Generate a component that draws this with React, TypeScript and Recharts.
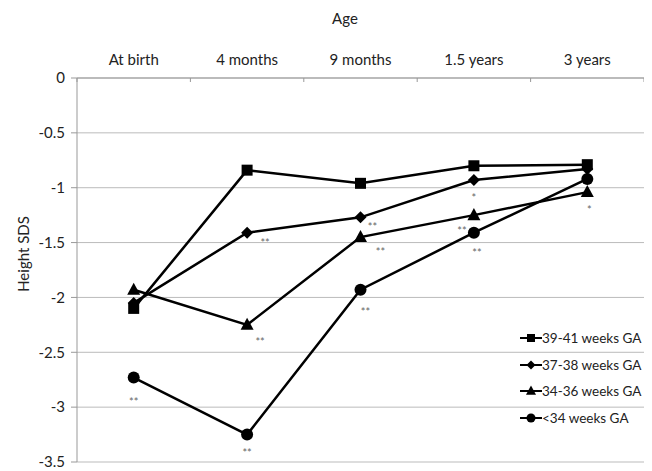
import React from 'react';
import { LineChart, Line, XAxis, YAxis, CartesianGrid, LabelList } from 'recharts';

const ages = ['At birth', '4 months', '9 months', '1.5 years', '3 years'];
const ga3941 = [-2.1, -0.84, -0.96, -0.8, -0.79];
const ga3738 = [-2.05, -1.41, -1.27, -0.93, -0.83];
const ga3436 = [-1.93, -2.25, -1.45, -1.25, -1.04];
const gaUnder34 = [-2.73, -3.25, -1.93, -1.41, -0.92];
const yTicks = [0, -0.5, -1, -1.5, -2, -2.5, -3, -3.5];

// significance marks under the points
const sig3738 = ['', '**', '**', '*', ''];
const sig3436 = ['', '**', '**', '**', '*'];
const sigUnder34 = ['**', '**', '**', '**', ''];

const data = ages.map((age, i) => ({
  age,
  g1: ga3941[i],
  g2: ga3738[i],
  g3: ga3436[i],
  g4: gaUnder34[i],
  s2: sig3738[i],
  s3: sig3436[i],
  s4: sigUnder34[i],
}));

const FONT = 'Lato, "Open Sans", sans-serif';
const W = 644;
const H = 463;
const LEFT = 69;
const RIGHT = 636;
const BAND = (RIGHT - LEFT) / ages.length;

// label offsets (dx, dy) so the stars sit like in the original
const off2 = [[0, 0], [18, 6], [12, 5], [0, 13], [0, 0]];
const off3 = [[0, 0], [13, 12], [20, 10], [-12, 11], [2, 13]];
const off4 = [[0, 20], [0, 14], [5, 17], [3, 16], [0, 0]];

const Square = (p: any) => {
  const s = p.size ?? 11;
  return <rect x={p.cx - s / 2} y={p.cy - s / 2} width={s} height={s} fill="#000" />;
};
const Diamond = (p: any) => {
  const s = p.size ?? 6;
  return (
    <polygon
      points={`${p.cx},${p.cy - s} ${p.cx + s},${p.cy} ${p.cx},${p.cy + s} ${p.cx - s},${p.cy}`}
      fill="#000"
    />
  );
};
const Triangle = (p: any) => {
  const s = p.size ?? 6.5;
  return (
    <polygon
      points={`${p.cx},${p.cy - s * 1.08} ${p.cx + s},${p.cy + s * 0.77} ${p.cx - s},${p.cy + s * 0.77}`}
      fill="#000"
    />
  );
};
const Circle = (p: any) => <circle cx={p.cx} cy={p.cy} r={p.size ?? 6} fill="#000" />;

const sigLabel = (offs: number[][]) => (props: any) => {
  const { x, y, value, index } = props;
  if (!value) return null;
  return (
    <text
      x={x + offs[index][0]}
      y={y + offs[index][1]}
      textAnchor="middle"
      dominantBaseline="hanging"
      fontSize={11}
      fill="#666"
      fontFamily={FONT}
    >
      {value}
    </text>
  );
};

const AgeTick = (props: any) => {
  const { x, y, payload, index } = props;
  return (
    <g>
      <text x={x} y={y - 13} textAnchor="middle" fontSize={15} fill="#222" fontFamily={FONT}>
        {payload.value}
      </text>
      <line x1={x - BAND / 2} x2={x - BAND / 2} y1={y} y2={y + 4} stroke="#999" />
      {index === ages.length - 1 && (
        <line x1={x + BAND / 2} x2={x + BAND / 2} y1={y} y2={y + 4} stroke="#999" />
      )}
    </g>
  );
};

const YLabel = () => (
  <text
    transform="translate(15, 246) rotate(-90)"
    textAnchor="middle"
    dominantBaseline="central"
    fontSize={15}
    fill="#222"
    fontFamily={FONT}
  >
    Height SDS
  </text>
);

const AgeLabel = () => (
  <text x={337} y={16} textAnchor="middle" fontSize={15} fill="#222" fontFamily={FONT}>
    Age
  </text>
);

const legendItems = [
  { name: '39-41 weeks GA', icon: 'square' },
  { name: '37-38 weeks GA', icon: 'diamond' },
  { name: '34-36 weeks GA', icon: 'triangle' },
  { name: '<34 weeks GA', icon: 'circle' },
];

const LegendIcon = ({ kind }: { kind: string }) => {
  const cx = 11;
  const cy = 7;
  let marker: React.ReactNode = null;
  if (kind === 'square') marker = <Square cx={cx} cy={cy} size={8} />;
  if (kind === 'diamond') marker = <Diamond cx={cx} cy={cy} size={4.5} />;
  if (kind === 'triangle') marker = <Triangle cx={cx} cy={cy} size={5} />;
  if (kind === 'circle') marker = <Circle cx={cx} cy={cy} size={4.5} />;
  return (
    <svg width={22} height={14} style={{ display: 'block' }}>
      <line x1={0} x2={22} y1={cy} y2={cy} stroke="#000" strokeWidth={2} />
      {marker}
    </svg>
  );
};

export default function App() {
  return (
    <div style={{ position: 'relative', width: W, height: H }}>
      <LineChart
        width={W}
        height={H}
        data={data}
        margin={{ top: 30, right: W - RIGHT, bottom: 9, left: 9 }}
      >
        <CartesianGrid vertical={false} stroke="#bbb" />
        <XAxis
          dataKey="age"
          orientation="top"
          height={40}
          padding={{ left: BAND / 2, right: BAND / 2 }}
          axisLine={{ stroke: '#999' }}
          tickLine={false}
          tickSize={0}
          tickMargin={0}
          tick={<AgeTick />}
          interval={0}
          label={<AgeLabel />}
        />
        <YAxis
          domain={[-3.5, 0]}
          ticks={yTicks}
          width={60}
          axisLine={{ stroke: '#999' }}
          tickLine={{ stroke: '#999' }}
          tickSize={6}
          tickMargin={6}
          tick={{ fontSize: 15, fill: '#222', fontFamily: FONT }}
          label={<YLabel />}
        />
        <Line dataKey="g1" stroke="#000" strokeWidth={2.5} dot={<Square />} isAnimationActive={false} />
        <Line dataKey="g2" stroke="#000" strokeWidth={2.5} dot={<Diamond />} isAnimationActive={false}>
          <LabelList dataKey="s2" content={sigLabel(off2)} />
        </Line>
        <Line dataKey="g3" stroke="#000" strokeWidth={2.5} dot={<Triangle />} isAnimationActive={false}>
          <LabelList dataKey="s3" content={sigLabel(off3)} />
        </Line>
        <Line dataKey="g4" stroke="#000" strokeWidth={2.5} dot={<Circle />} isAnimationActive={false}>
          <LabelList dataKey="s4" content={sigLabel(off4)} />
        </Line>
      </LineChart>
      <div
        style={{
          position: 'absolute',
          left: 512,
          top: 317,
          fontFamily: FONT,
          fontSize: 13.5,
          color: '#222',
          whiteSpace: 'nowrap',
        }}
      >
        {legendItems.map((it) => (
          <div key={it.name} style={{ display: 'flex', alignItems: 'center', height: 26.5 }}>
            <LegendIcon kind={it.icon} />
            <span>{it.name}</span>
          </div>
        ))}
      </div>
    </div>
  );
}
